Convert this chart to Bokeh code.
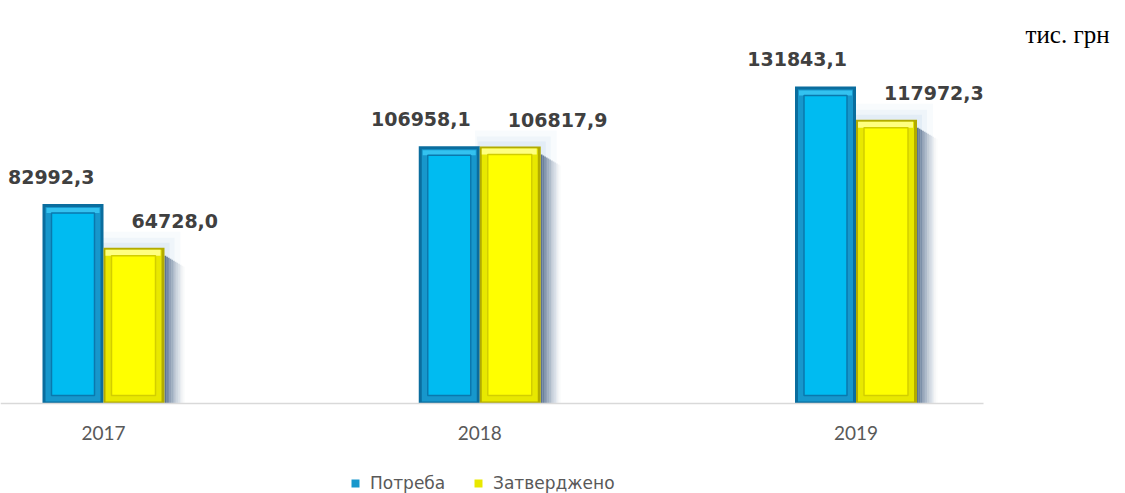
import numpy as np
from bokeh.plotting import figure
from bokeh.models import FixedTicker, Label, Legend, LegendItem, Range1d
from bokeh.core.properties import value
from bokeh.embed import file_html
from bokeh.resources import INLINE

# ---- data ----
years = ["2017", "2018", "2019"]
need = [82992.3, 106958.1, 131843.1]
approved = [64728.0, 106817.9, 117972.3]
need_labels = ["82992,3", "106958,1", "131843,1"]
approved_labels = ["64728,0", "106817,9", "117972,3"]
series_names = ["Потреба", "Затверджено"]
unit_text = "тис. грн"

# ---- layout constants ----
W, H = 1125, 493
base_px = 403              # baseline position from top (px)
px_cat = 376.25            # pixels per category
x0 = -103.0 / px_cat
x1 = x0 + W / px_cat
dx = 1.0 / px_cat          # data units per pixel (x)
dy = 1000.0 / 2.405        # data units per pixel (y)
y0 = -(H - base_px) * dy
y1 = base_px * dy
bw = 61 * dx

idx = np.arange(len(years), dtype=float)
need_a = np.array(need)
appr_a = np.array(approved)

p = figure(width=W, height=H, output_backend="svg", toolbar_location=None,
           x_range=Range1d(x0, x1), y_range=Range1d(y0, y1),
           y_axis_location=None, title=None,
           min_border_left=0, min_border_right=0, min_border_top=0,
           min_border_bottom=0, outline_line_color=None,
           background_fill_color="white", border_fill_color="white")
p.grid.visible = False

# soft glow behind yellow bars
for k, a in zip([16, 10, 5], [0.05, 0.07, 0.10]):
    p.quad(left=idx - k * 0.3 * dx, right=idx + bw + k * dx, bottom=0,
           top=appr_a + k * dy, fill_color="#7FA8D4", fill_alpha=a, line_color=None)

# blue bars (bevel imitation)
r_need_outer = p.quad(left=idx - bw, right=idx, bottom=0, top=need_a,
                      fill_color="#0A6D9E", line_color=None)
r_need_mid = p.quad(left=idx - bw + 3 * dx, right=idx - 3 * dx, bottom=2 * dy,
                    top=need_a - 3 * dy, fill_color="#1797CC", line_color=None)
p.quad(left=idx - bw + 4 * dx, right=idx - 4 * dx, bottom=need_a - 9 * dy,
       top=need_a - 4 * dy, fill_color="#33C2F0", line_color=None)
p.quad(left=idx - bw + 9 * dx, right=idx - 9 * dx, bottom=8 * dy,
       top=need_a - 9 * dy, fill_color="#00BBF1", line_color="#0A78AD", line_width=1.5)

# right shadow of yellow bars
n_sh = 12
for k in range(n_sh):
    a = 0.85 * (1 - k / n_sh) ** 1.5
    p.quad(left=idx + bw + k * 1.7 * dx, right=idx + bw + (k + 1) * 1.7 * dx,
           bottom=0, top=appr_a - (8 + k) * dy, fill_color="#445D7E",
           fill_alpha=a, line_color=None)

# yellow bars (bevel imitation)
r_appr_outer = p.quad(left=idx, right=idx + bw, bottom=0, top=appr_a,
                      fill_color="#B2AB00", line_color=None)
r_appr_mid = p.quad(left=idx + 2 * dx, right=idx + bw - 3 * dx, bottom=2 * dy,
                    top=appr_a - 2 * dy, fill_color="#E8E800", line_color=None)
p.quad(left=idx + 2 * dx, right=idx + bw - 4 * dx, bottom=appr_a - 8 * dy,
       top=appr_a - 2 * dy, fill_color="#FFFF80", line_color=None)
p.quad(left=idx + 8 * dx, right=idx + bw - 9 * dx, bottom=8 * dy,
       top=appr_a - 8 * dy, fill_color="#FFFF00", line_color="#D2CE00", line_width=1.5)

# value labels
p.text(x=idx - 9 * dx, y=need_a + 27 * dy, text=need_labels,
       text_align="right", text_baseline="middle",
       text_font=value("DejaVu Sans"), text_font_style="bold",
       text_font_size="19px", text_color="#404040")
p.text(x=idx + 28 * dx, y=appr_a + 27 * dy, text=approved_labels,
       text_align="left", text_baseline="middle",
       text_font=value("DejaVu Sans"), text_font_style="bold",
       text_font_size="19px", text_color="#404040")

# x axis, drawn at the baseline
ax = p.xaxis[0]
ax.fixed_location = 0
ax.ticker = FixedTicker(ticks=list(idx))
ax.major_label_overrides = {float(i): y for i, y in zip(idx, years)}
ax.bounds = (x0, x0 + 983.0 / px_cat)
ax.axis_line_color = "#D9D9D9"
ax.axis_line_width = 1.6
ax.major_tick_line_color = None
ax.minor_tick_line_color = None
ax.major_label_text_font = "Lato"
ax.major_label_text_font_size = "19px"
ax.major_label_text_color = "#595959"
ax.major_label_standoff = 16

# unit label
p.add_layout(Label(x=1025, y=H - 34, x_units="screen", y_units="screen",
                   text=unit_text, text_font="Liberation Serif",
                   text_font_size="25px", text_color="black",
                   text_baseline="middle"))

# legend
legend = Legend(items=[LegendItem(label=series_names[0], renderers=[r_need_mid]),
                       LegendItem(label=series_names[1], renderers=[r_appr_mid])],
                location=(350, 0), orientation="horizontal",
                glyph_width=10, glyph_height=10, label_standoff=10, spacing=24,
                padding=0, margin=0, border_line_color=None,
                background_fill_alpha=0, label_text_font="DejaVu Sans",
                label_text_font_size="17px", label_text_color="#595959",
                label_height=14, label_width=79)
p.add_layout(legend)

open("out.html", "w").write(file_html(p, INLINE))
